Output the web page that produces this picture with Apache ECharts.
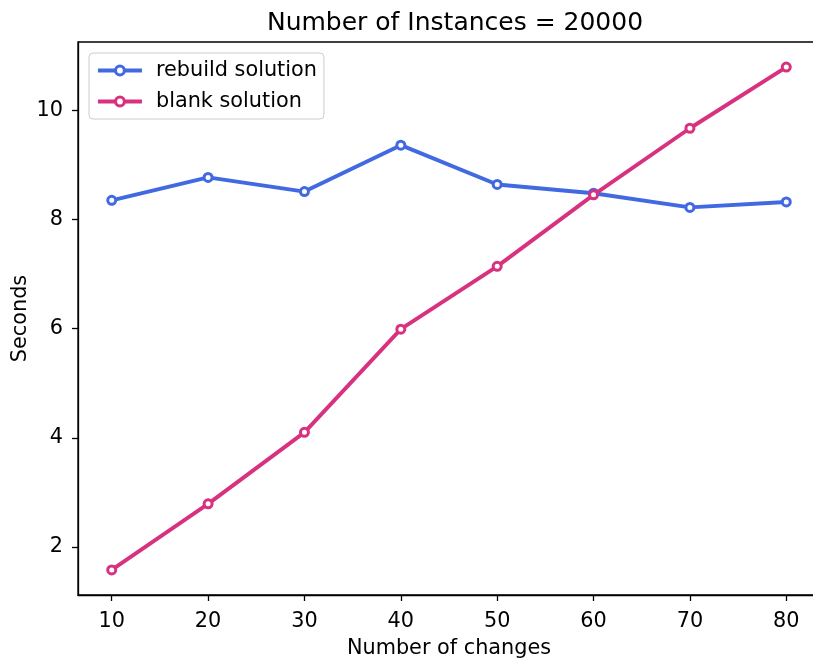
<!DOCTYPE html>
<html>
<head>
<meta charset="utf-8">
<script src="https://cdn.jsdelivr.net/npm/echarts@6/dist/echarts.min.js"></script>
<style>
html,body{margin:0;padding:0;background:#fff;}
#chart{width:813px;height:664px;}
</style>
</head>
<body>
<div id="chart"></div>
<script>
// Number of changes on the x axis
const changes = [10, 20, 30, 40, 50, 60, 70, 80];
// Run time in seconds for each approach
const rebuildSeconds = [8.35, 8.77, 8.51, 9.36, 8.64, 8.48, 8.22, 8.32];
const blankSeconds = [1.58, 2.79, 4.10, 5.99, 7.14, 8.45, 9.67, 10.79];
const yTicks = [2, 4, 6, 8, 10];

const font = 'DejaVu Sans';
const blue = '#4169e1';
const pink = '#d8317f';
const chart = echarts.init(document.getElementById('chart'), null, {renderer: 'canvas'});

function pairs(xs, ys) { return xs.map((x, i) => [x, ys[i]]); }

const axisCommon = {
  axisLine: {show: true, onZero: false, lineStyle: {color: '#000', width: 1.3}},
  axisTick: {show: true, inside: false, length: 6, lineStyle: {color: '#000', width: 1.3}},
  splitLine: {show: false},
  axisLabel: {color: '#000', fontFamily: font, fontSize: 20.8},
  nameTextStyle: {color: '#000', fontFamily: font, fontSize: 20.8}
};

chart.setOption({
  animation: false,
  backgroundColor: '#fff',
  title: {
    text: 'Number of Instances = 20000',
    left: 450, top: 6, textAlign: 'center',
    textStyle: {fontFamily: font, fontSize: 25, fontWeight: 'normal', color: '#000'}
  },
  legend: {
    left: 89, top: 53, orient: 'vertical',
    padding: [7, 7, 7, 7],
    itemWidth: 44, itemHeight: 11, itemGap: 10,
    borderColor: '#cccccc', borderWidth: 1, borderRadius: 4,
    backgroundColor: 'rgba(255,255,255,0.8)',
    textStyle: {fontFamily: font, fontSize: 20.8, color: '#000', padding: [0, 0, 0, 9]},
    data: [
      {name: 'rebuild solution', lineStyle: {width: 3.9, color: blue},
       itemStyle: {color: '#fff', borderColor: blue, borderWidth: 3}},
      {name: 'blank solution', lineStyle: {width: 3.9, color: pink},
       itemStyle: {color: '#fff', borderColor: pink, borderWidth: 3}}
    ]
  },
  grid: {
    left: 78, top: 42, width: 742, height: 553,
    containLabel: false, outerBoundsMode: 'none',
    show: true, borderColor: '#000', borderWidth: 1.3, backgroundColor: 'transparent'
  },
  xAxis: Object.assign({}, axisCommon, {
    type: 'value', min: 6.5, max: 83.5,
    name: 'Number of changes', nameLocation: 'middle', nameGap: 43,
    axisTick: Object.assign({}, axisCommon.axisTick, {customValues: changes}),
    axisLabel: Object.assign({}, axisCommon.axisLabel, {customValues: changes, margin: 16})
  }),
  yAxis: Object.assign({}, axisCommon, {
    type: 'value', min: 1.12, max: 11.25,
    name: 'Seconds', nameLocation: 'middle', nameGap: 47, nameRotate: 90,
    nameMoveOverlap: false,
    axisTick: Object.assign({}, axisCommon.axisTick, {customValues: yTicks}),
    axisLabel: Object.assign({}, axisCommon.axisLabel, {customValues: yTicks, margin: 15})
  }),
  series: [
    {
      name: 'rebuild solution', type: 'line',
      data: pairs(changes, rebuildSeconds),
      symbol: 'circle', symbolSize: 8, showSymbol: true,
      lineStyle: {color: blue, width: 3.9},
      itemStyle: {color: '#fff', borderColor: blue, borderWidth: 3},
      z: 2
    },
    {
      name: 'blank solution', type: 'line',
      data: pairs(changes, blankSeconds),
      symbol: 'circle', symbolSize: 8, showSymbol: true,
      lineStyle: {color: pink, width: 3.9},
      itemStyle: {color: '#fff', borderColor: pink, borderWidth: 3},
      z: 3
    }
  ]
});
</script>
</body>
</html>
